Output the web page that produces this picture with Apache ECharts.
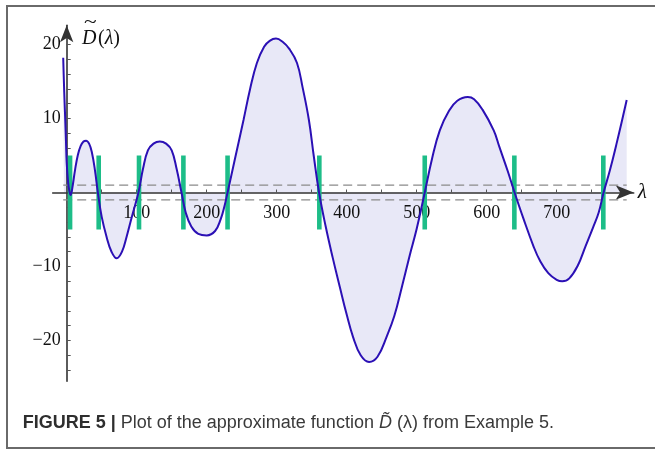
<!DOCTYPE html>
<html>
<head>
<meta charset="utf-8">
<script src="https://cdn.jsdelivr.net/npm/echarts@6/dist/echarts.min.js"></script>
<style>
  html, body { margin: 0; padding: 0; background: #ffffff; }
  #chart { width: 655px; height: 449px; }
</style>
</head>
<body>
<div id="chart"></div>
<script>
// Sampled values of the approximate function D~(lambda)
const lambdaVals = [
  -5, -4, -3, -2, -1, 0, 2, 4, 5.7, 8, 12, 16, 20, 24, 27.6, 32, 36, 40.4, 44.5,
  50, 57, 64, 71.5, 79, 85.5, 93, 102.5,
  109, 116, 124, 133, 142, 150, 157, 164,
  170, 178, 188, 200, 212, 220, 225, 229.8,
  240, 252.6, 262, 271.7, 282, 290, 299, 308, 318, 329, 337, 346, 353, 360.5,
  370, 380, 390, 400, 409, 420, 432, 444, 457, 468, 479, 490, 500, 511.5,
  522, 533, 546, 558, 573, 582, 594, 610, 618, 630, 639.8,
  652, 667, 676, 688, 700, 708, 718, 730, 741, 752, 760, 767,
  776, 785, 793, 800
];
const dVals = [
  18.2, 15.0, 12.2, 9.6, 6.8, 4.0, 1.4, 0.1, -0.34, 0.6, 3.1, 5.1, 6.3, 6.9, 7.0, 6.6, 5.4, 3.0, 0.0,
  -3.3, -6.0, -8.0, -8.9, -8.0, -6.0, -3.3, 0.0,
  3.2, 5.7, 6.6, 6.9, 6.6, 5.7, 3.2, 0.0,
  -2.7, -4.6, -5.6, -5.8, -5.2, -3.6, -2.0, 0.0,
  4.4, 9.8, 14.0, 17.5, 19.7, 20.5, 20.8, 20.4, 19.4, 17.5, 14.2, 9.8, 4.9, 0.0,
  -4.6, -8.8, -12.7, -16.5, -19.5, -22.0, -22.9, -22.2, -19.5, -16.7, -12.7, -8.5, -4.9, 0.0,
  4.6, 8.4, 11.0, 12.4, 12.9, 12.6, 11.2, 8.4, 6.2, 2.9, 0.0,
  -3.4, -7.3, -9.2, -10.9, -11.8, -12.0, -11.6, -9.9, -7.3, -4.7, -2.7, 0.0,
  3.0, 6.4, 9.6, 12.5
];

// Approximate zeros, marked by short vertical bars
const zeroMarks = [4.8, 45.7, 103.3, 166.7, 229.8, 360.9, 511.5, 639.5, 766.6];
const markRange = [-5, 5];

// Dashed tolerance band
const bandLevels = [1, -1];
const bandSpan = [-5, 800];

// Axis ticks and labels
const xTickVals = [50, 100, 150, 200, 250, 300, 350, 400, 450, 500, 550, 600, 650, 700, 750];
const xLabelVals = [100, 200, 300, 400, 500, 600, 700];
const yTickVals = [-24, -22, -20, -18, -16, -14, -12, -10, -8, -6, -4, -2, 2, 4, 6, 8, 10, 12, 14, 16, 18, 20];
const yLabelVals = [-20, -10, 10, 20];

const curve = lambdaVals.map((x, i) => [x, dVals[i]]);
const minus = v => String(v).replace('-', '\u2212');
const serif = '"Liberation Serif", "DejaVu Serif", serif';

// plot box: the axes cross at the origin inside it
const xMin = -20, xMax = 810, yMin = -25.5, yMax = 22.6;
const gridBox = { left: 52.7, top: 25.26, width: 581, height: 355.94 };
const originDown = gridBox.height * yMax / (yMax - yMin);
const originRight = gridBox.width * (0 - xMin) / (xMax - xMin);

const chart = echarts.init(document.getElementById('chart'), null, { renderer: 'canvas' });

const axisLineStyle = { color: '#333333', width: 1.6 };
const curveSmooth = 0.42;

chart.setOption({
  animation: false,
  backgroundColor: '#ffffff',
  grid: Object.assign({ containLabel: false }, gridBox),
  xAxis: {
    type: 'value',
    min: xMin,
    max: xMax,
    z: 1.5,
    offset: -(gridBox.height - originDown),
    name: '\u03bb',
    nameLocation: 'end',
    nameGap: 4,
    nameTextStyle: { fontFamily: serif, fontStyle: 'italic', fontSize: 21, color: '#111' },
    axisLine: { onZero: false, lineStyle: axisLineStyle, symbol: ['none', 'arrow'], symbolSize: [11, 18] },
    axisTick: { show: true, inside: true, length: 3, customValues: xTickVals, lineStyle: { color: '#555', width: 1 } },
    axisLabel: { customValues: xLabelVals, margin: 12, fontFamily: serif, fontSize: 18, color: '#111' },
    splitLine: { show: false }
  },
  yAxis: {
    type: 'value',
    min: yMin,
    max: yMax,
    z: 1.5,
    offset: -originRight,
    axisLine: { onZero: false, lineStyle: axisLineStyle, symbol: ['none', 'arrow'], symbolSize: [10, 17] },
    axisTick: { show: true, inside: true, length: 4, customValues: yTickVals, lineStyle: { color: '#555', width: 1 } },
    axisLabel: { customValues: yLabelVals, margin: 6, fontFamily: serif, fontSize: 18, color: '#111', formatter: minus },
    splitLine: { show: false }
  },
  series: [
    {
      // shaded region between the curve and the axis
      type: 'line',
      data: curve,
      smooth: curveSmooth,
      showSymbol: false,
      silent: true,
      lineStyle: { width: 0 },
      areaStyle: { color: '#e8e8f7', opacity: 1, origin: 0 },
      z: 1
    },
    ...bandLevels.map(level => ({
      type: 'line',
      data: [[bandSpan[0], level], [bandSpan[1], level]],
      showSymbol: false,
      silent: true,
      lineStyle: { color: '#8a8a8a', width: 1.2, type: [9, 5] },
      z: 2
    })),
    {
      type: 'custom',
      data: zeroMarks.map(x => [x, markRange[0], markRange[1]]),
      encode: { x: 0, y: [1, 2] },
      silent: true,
      renderItem: (params, api) => {
        const x = api.value(0);
        const top = api.coord([x, api.value(2)]);
        const bot = api.coord([x, api.value(1)]);
        return {
          type: 'rect',
          shape: { x: top[0] - 2.3, y: top[1], width: 4.6, height: bot[1] - top[1] },
          style: { fill: '#1dbd88' }
        };
      },
      z: 3
    },
    {
      type: 'line',
      data: curve,
      smooth: curveSmooth,
      showSymbol: false,
      silent: true,
      lineStyle: { color: '#2b10b5', width: 2 },
      z: 4
    }
  ],
  graphic: [
    {
      type: 'rect',
      shape: { x: 7, y: 6, width: 690, height: 442 },
      style: { fill: 'none', stroke: '#6a6a6a', lineWidth: 2 },
      silent: true
    },
    // axis title D~(lambda)
    {
      type: 'text',
      left: 82, top: 29,
      style: { text: 'D', fontFamily: serif, fontStyle: 'italic', fontSize: 20, fill: '#111' }
    },
    {
      type: 'text',
      left: 84, top: 14,
      scaleX: 1.3,
      style: { text: '~', fontFamily: serif, fontSize: 18, fill: '#111' }
    },
    {
      type: 'text',
      left: 98, top: 29,
      style: {
        text: '({l|\u03bb})',
        fontFamily: serif, fontSize: 20, fill: '#111',
        rich: { l: { fontFamily: serif, fontStyle: 'italic', fontSize: 20, fill: '#111' } }
      }
    },
    // figure caption
    {
      type: 'text',
      left: 22.7, top: 414,
      style: {
        text: '{b|FIGURE 5 |} Plot of the approximate function {i|D\u0303} (\u03bb) from Example 5.',
        fontFamily: '"Liberation Sans", Arial, sans-serif',
        fontSize: 18,
        fill: '#3a3a3a',
        rich: {
          b: { fontFamily: '"Liberation Sans", Arial, sans-serif', fontWeight: 'bold', fontSize: 18, fill: '#2e2e2e' },
          i: { fontFamily: '"Liberation Sans", Arial, sans-serif', fontStyle: 'italic', fontSize: 18, fill: '#3a3a3a' }
        }
      }
    }
  ]
});
</script>
</body>
</html>
